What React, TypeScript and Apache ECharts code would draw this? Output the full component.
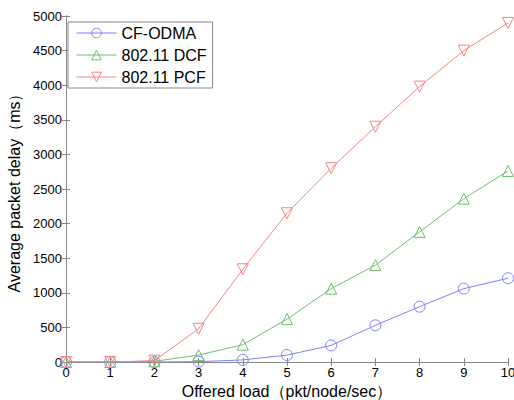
import React, { useEffect, useRef } from "react";
import * as echarts from "echarts";

const loads = [0, 1, 2, 3, 4, 5, 6, 7, 8, 9, 10];
const odma = [0, 0, 0, 5, 30, 100, 240, 530, 800, 1060, 1210];
const dcf = [0, 0, 10, 100, 250, 620, 1060, 1400, 1880, 2360, 2760];
const pcf = [0, 0, 20, 480, 1340, 2150, 2800, 3400, 3980, 4500, 4900];
const seriesNames = ["CF-ODMA", "802.11 DCF", "802.11 PCF"];

const FONT = "'Liberation Sans', Arial, sans-serif";

export default function App() {
  const ref = useRef<HTMLDivElement>(null);
  useEffect(() => {
    const chart = echarts.init(ref.current!, null, { renderer: "svg" });
    const pair = (arr: number[]) => loads.map((x, i) => [x, arr[i]]);
    const axisLine = { show: true, lineStyle: { color: "#888", width: 1 } };
    const mk = (name: string, data: number[], color: string, symbol: string, rotate: number) => ({
      name,
      type: "line",
      data: pair(data),
      symbol,
      symbolSize: 11,
      symbolRotate: rotate,
      lineStyle: { color, width: 1 },
      itemStyle: { color: "rgba(255,255,255,0)", borderColor: color, borderWidth: 1 },
      z: 3,
    });
    chart.setOption({
      animation: false,
      backgroundColor: "#fff",
      textStyle: { fontFamily: FONT },
      grid: { left: 66, right: 6, top: 16, bottom: 38, containLabel: false, outerBoundsMode: "none" },
      legend: {
        left: 68,
        top: 22,
        orient: "vertical",
        backgroundColor: "#fff",
        borderColor: "#888",
        borderWidth: 1,
        padding: [3, 6, 3, 8],
        itemWidth: 40,
        itemHeight: 12,
        itemGap: 6,
        itemStyle: { borderWidth: 1 },
        lineStyle: { width: 1 },
        textStyle: { fontSize: 16, color: "#000", fontFamily: FONT },
        data: seriesNames,
      },
      xAxis: [
        {
          type: "value",
          min: 0,
          max: 10,
          interval: 1,
          name: "Offered load（pkt/node/sec）",
          nameLocation: "middle",
          nameGap: 21,
          nameTextStyle: { fontSize: 16, color: "#000", fontFamily: FONT },
          axisLine,
          axisTick: { inside: true, length: 4, lineStyle: { color: "#888" } },
          axisLabel: { fontSize: 13, color: "#000", margin: 4, fontFamily: FONT },
          splitLine: { show: false },
        },
        {
          type: "value",
          position: "top",
          min: 0,
          max: 10,
          interval: 1,
          axisLine,
          axisTick: { inside: true, length: 4, lineStyle: { color: "#888" } },
          axisLabel: { show: false },
          splitLine: { show: false },
        },
      ],
      yAxis: [
        {
          type: "value",
          min: 0,
          max: 5000,
          interval: 500,
          name: "Average packet delay（ms）",
          nameLocation: "middle",
          nameGap: 38,
          nameTextStyle: { fontSize: 16, color: "#000", fontFamily: FONT },
          axisLine,
          axisTick: { inside: true, length: 4, lineStyle: { color: "#888" } },
          axisLabel: { fontSize: 13, color: "#000", margin: 4, fontFamily: FONT, formatter: (v: number) => String(v) },
          splitLine: { show: false },
        },
        {
          type: "value",
          position: "right",
          min: 0,
          max: 5000,
          interval: 500,
          axisLine,
          axisTick: { inside: true, length: 4, lineStyle: { color: "#888" } },
          axisLabel: { show: false },
          splitLine: { show: false },
        },
      ],
      series: [
        mk(seriesNames[0], odma, "#7f7fff", "circle", 0),
        mk(seriesNames[1], dcf, "#6fbf6f", "triangle", 0),
        mk(seriesNames[2], pcf, "#ff8080", "triangle", 180),
      ],
    });
    return () => chart.dispose();
  }, []);
  return <div ref={ref} style={{ width: 514, height: 400, position: "fixed", left: 0, top: 0 }} />;
}
